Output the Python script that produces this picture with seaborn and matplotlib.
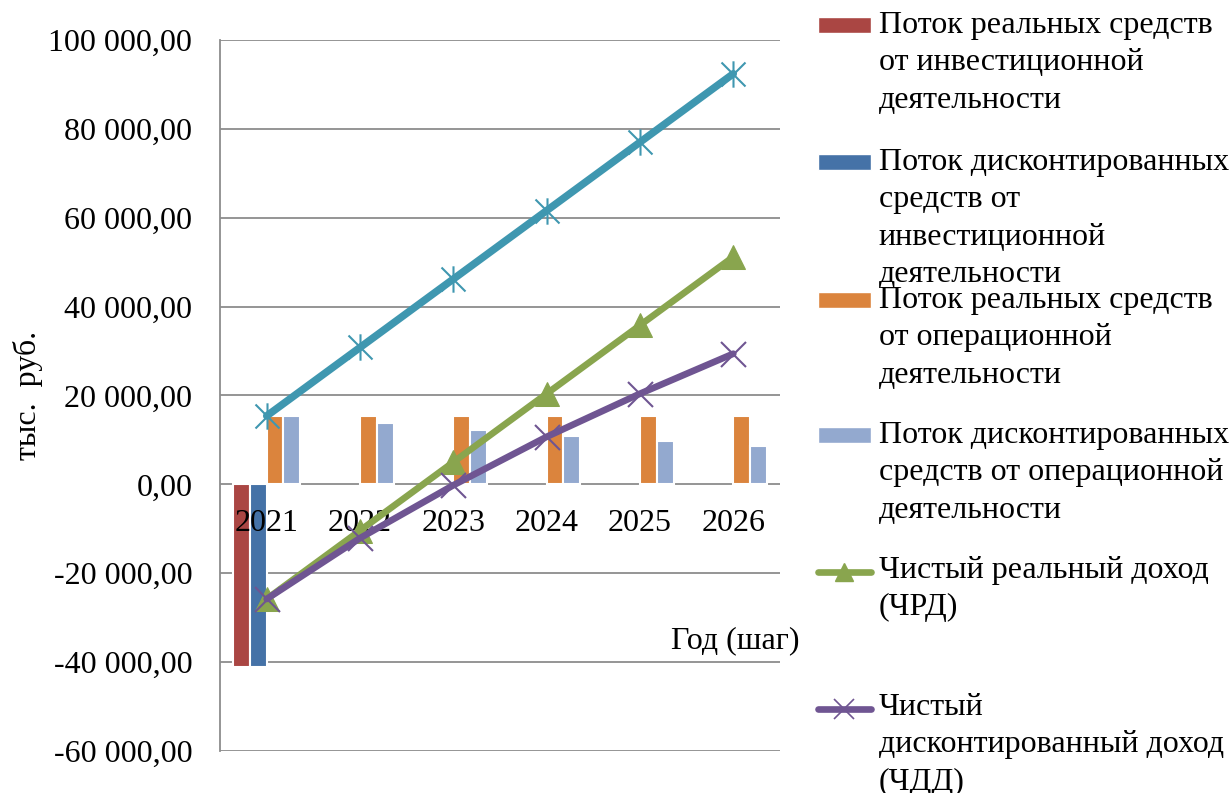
import numpy as np
import pandas as pd
import matplotlib
matplotlib.use("Agg")
import matplotlib.pyplot as plt
import seaborn as sns
from matplotlib.lines import Line2D
from matplotlib.patches import Patch
from matplotlib.path import Path
from matplotlib.ticker import FuncFormatter, MultipleLocator
from matplotlib.transforms import Affine2D
from matplotlib.legend_handler import HandlerLine2D, HandlerPatch

# Данные (тыс. руб.)
years = ['2021', '2022', '2023', '2024', '2025', '2026']

invest_real = [-41200, 0, 0, 0, 0, 0]
invest_disc = [-41200, 0, 0, 0, 0, 0]
oper_real = [15400, 15400, 15400, 15400, 15400, 15400]
oper_disc = [15400, 13700, 12200, 10850, 9650, 8600]
oper_cum = [15400, 30800, 46200, 61600, 77000, 92400]
chrd = [-25800, -10400, 5000, 20400, 35800, 51200]
chdd = [-25800, -12100, -200, 10700, 20400, 29400]

bar_labels = [
    'Поток реальных средств\nот инвестиционной\nдеятельности',
    'Поток дисконтированных\nсредств от\nинвестиционной\nдеятельности',
    'Поток реальных средств\nот операционной\nдеятельности',
    'Поток дисконтированных\nсредств от операционной\nдеятельности',
]
bar_colors = ['#AA4643', '#4572A7', '#DB843D', '#93A9CF']
chrd_label = 'Чистый реальный доход\n(ЧРД)'
chdd_label = 'Чистый\nдисконтированный доход\n(ЧДД)'

teal = '#3F97B0'
green = '#89A54E'
purple = '#6F5592'
FS = 23
LSP = 1.38            # межстрочный интервал в легенде
STEP = 37.5 * 0.72    # шаг строки легенды, pt

sns.set_theme(style='white')
plt.rcParams['font.family'] = ['Liberation Serif', 'DejaVu Serif']

fig = plt.figure(figsize=(12.32, 7.93), dpi=100)
ax = fig.add_axes([0.1786, 0.0530, 0.4545, 0.8966])

# Столбцы
rows = []
for name, vals in zip(bar_labels, [invest_real, invest_disc, oper_real, oper_disc]):
    for y, v in zip(years, vals):
        rows.append({'year': y, 'value': v, 'series': name})
bars_df = pd.DataFrame(rows)

sns.barplot(data=bars_df, x='year', y='value', hue='series', hue_order=bar_labels,
            palette=bar_colors, width=0.72, edgecolor='white', linewidth=1.5,
            errorbar=None, legend=False, saturation=1, ax=ax, zorder=2)
# нулевые столбцы не рисуем (иначе белая обводка рвёт линию нуля)
for p in ax.patches:
    if p.get_height() == 0:
        p.set_visible(False)

# Линии
star = Path([(-1, -1), (1, 1), (-1, 1), (1, -1), (0, -1.1), (0, 1.1)],
            [Path.MOVETO, Path.LINETO, Path.MOVETO, Path.LINETO, Path.MOVETO, Path.LINETO])
xpos = np.arange(len(years))

sns.lineplot(x=xpos, y=oper_cum, ax=ax, color=teal, lw=5.4, marker=star, ms=19,
             mfc='none', mec=teal, mew=1.5, solid_capstyle='round', zorder=4)
sns.lineplot(x=xpos, y=chrd, ax=ax, color=green, lw=4.8, marker='^', ms=17,
             mfc=green, mec=green, solid_capstyle='round', zorder=5)
sns.lineplot(x=xpos, y=chdd, ax=ax, color=purple, lw=4.8, marker='x', ms=18,
             mec=purple, mew=1.5, solid_capstyle='round', zorder=6)

# Оси
ax.set_xlim(-0.5, 5.5)
ax.set_ylim(-60000, 100000)
ax.yaxis.set_major_locator(MultipleLocator(20000))
ax.yaxis.set_major_formatter(FuncFormatter(
    lambda v, p: f'{v:,.2f}'.replace(',', ' ').replace('.', ',')))
ax.set_xticks(xpos)
ax.set_xticklabels(years)
ax.yaxis.grid(True, color='#8c8c8c', lw=1.3)
ax.xaxis.grid(False)
# сетка под столбцами, подписи годов над ними
ax.yaxis.set_zorder(0.5)
ax.xaxis.set_zorder(3)
for s in ['top', 'right']:
    ax.spines[s].set_visible(False)
ax.spines['left'].set_color('#8c8c8c')
ax.spines['left'].set_linewidth(1.3)
ax.spines['bottom'].set_position(('data', 0))
ax.spines['bottom'].set_visible(False)
ax.tick_params(axis='x', length=0, pad=18, labelsize=FS, labelcolor='black')
ax.tick_params(axis='y', length=0, pad=20, labelsize=FS, labelcolor='black')

ax.set_ylabel('тыс.  руб.', fontsize=FS, color='black', labelpad=4)
ax.set_xlabel('Год (шаг)', fontsize=FS, color='black')
ax.xaxis.set_label_coords(0.921, 0.175)


# Легенда: маркер напротив первой строки подписи
class RaisedPatch(HandlerPatch):
    def __init__(self, dy):
        super().__init__()
        self.dy = dy

    def create_artists(self, legend, orig_handle, xdescent, ydescent, width, height, fontsize, trans):
        return super().create_artists(legend, orig_handle, xdescent, ydescent, width, height,
                                      fontsize, Affine2D().translate(0, self.dy) + trans)


class RaisedLine(HandlerLine2D):
    def __init__(self, dy):
        super().__init__()
        self.dy = dy

    def create_artists(self, legend, orig_handle, xdescent, ydescent, width, height, fontsize, trans):
        return super().create_artists(legend, orig_handle, xdescent, ydescent, width, height,
                                      fontsize, Affine2D().translate(0, self.dy) + trans)


handles = [Patch(facecolor=c) for c in bar_colors]
handles.append(Line2D([], [], color=green, lw=4.8, marker='^', ms=13, mfc=green, mec=green,
                      solid_capstyle='round'))
handles.append(Line2D([], [], color=purple, lw=4.8, marker='x', ms=14, mec=purple, mew=1.2,
                      solid_capstyle='round'))
labels = bar_labels + [chrd_label, chdd_label]
tops = [11, 148, 286, 421, 556, 693]

for h, lab, top in zip(handles, labels, tops):
    n = lab.count('\n')
    dy = n / 2 * STEP
    handler = RaisedPatch(dy) if isinstance(h, Patch) else RaisedLine(dy)
    leg = fig.legend(handles=[h], labels=[lab], loc='upper left',
                     bbox_to_anchor=(818 / 1232, 1 - top / 793), frameon=False,
                     borderpad=0, borderaxespad=0, handlelength=1.65, handleheight=0.42,
                     handletextpad=0.25, fontsize=FS, labelcolor='black',
                     handler_map={type(h): handler})
    for t in leg.get_texts():
        t.set_linespacing(LSP)

fig.savefig('out.png', dpi=100)
